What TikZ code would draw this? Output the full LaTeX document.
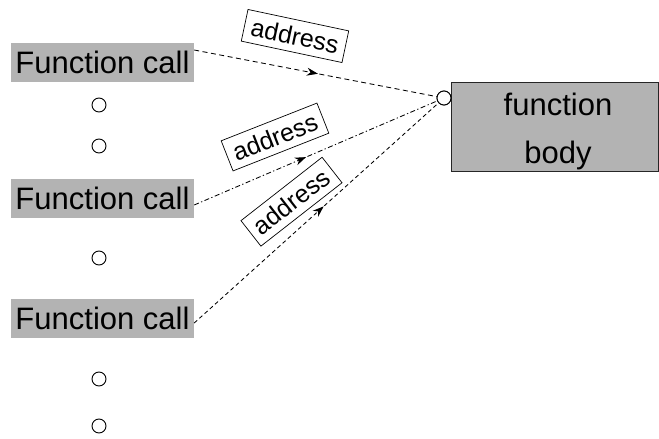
\documentclass[tikz,border=0pt]{standalone}
\usepackage{fontspec}
\setmainfont{Liberation Sans}
\usetikzlibrary{arrows.meta,decorations.markings}
\definecolor{boxgray}{RGB}{179,179,179}
\begin{document}
\begin{tikzpicture}[x=1pt,y=-1pt,
  callbox/.style={fill=boxgray, minimum width=183pt, minimum height=39pt,
    inner sep=0pt, font=\fontsize{31}{36}\selectfont},
  bodybox/.style={draw=black!85, fill=boxgray, line width=0.9pt,
    minimum width=207pt, minimum height=89pt, inner sep=0pt},
  bodytext/.style={align=center, inner sep=0pt, font=\fontsize{31}{48}\selectfont},
  dot/.style={circle, draw, line width=0.9pt, minimum size=14pt, inner sep=0pt},
  portdot/.style={dot, fill=white},
  addr/.style={draw, fill=white, line width=0.7pt, inner sep=7pt,
    font=\fontsize{25}{28}\selectfont},
  link/.style={line width=0.85pt, postaction={decorate},
    decoration={markings, mark=at position #1 with
      {\arrow{Stealth[length=11pt,width=8pt]}}}},
  link/.default=0.5,
  dashA/.style={dash pattern=on 5pt off 3.5pt},
  dashB/.style={dash pattern=on 5pt off 2.5pt on 1.2pt off 2.5pt},
  dashC/.style={dash pattern=on 4pt off 3pt}]
\useasboundingbox (0,0) rectangle (659,439);

% calling sites
\node[callbox] (fc1) at (102.5,62) {Function call};
\node[callbox] (fc2) at (102.5,198.5) {Function call};
\node[callbox] (fc3) at (102.5,318.5) {Function call};

% ellipsis circles
\node[dot] (d1) at (99,105) {};
\node[dot] (d2) at (99,146) {};
\node[dot] (d3) at (99,258) {};
\node[dot] (d4) at (99,379) {};
\node[dot] (d5) at (99,426) {};

% shared function body with its entry port
\node[bodybox] (body) at (554.5,126.5) {};
\node[bodytext] (bodylabel) at (558,131) {function\\body};
\node[portdot] (port) at (444,98) {};

% calls jumping to the entry address
\draw[link=0.51, dashA] ([yshift=12pt]fc1.east) -- (port);
\draw[link=0.46, dashB] ([yshift=-6.5pt]fc2.east) -- (port);
\draw[link=0.53, dashC] ([yshift=-4.5pt]fc3.east) -- (port);
\node[portdot] at (port) {};

% labels on the jumps
\node[addr, rotate=-12] (a1) at (295,36) {address};
\node[addr, rotate=21.5] (a2) at (275,137) {address};
\node[addr, rotate=38] (a3) at (291.5,201.7) {address};
\end{tikzpicture}
\end{document}
